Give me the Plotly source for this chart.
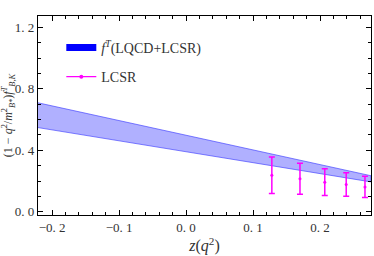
import plotly.graph_objects as go

# Band (LQCD+LCSR) edges
band_z = [-0.221, 0.276]
band_upper = [0.709, 0.235]
band_lower = [0.548, 0.195]

# LCSR points
lcsr_z = [0.128, 0.170, 0.207, 0.239, 0.267]
lcsr_top = [0.357, 0.316, 0.281, 0.255, 0.231]
lcsr_bot = [0.119, 0.115, 0.106, 0.102, 0.093]
lcsr_mid = [(a + b) / 2 for a, b in zip(lcsr_top, lcsr_bot)]

x_ticks = [-0.2, -0.1, 0.0, 0.1, 0.2]
x_ticktext = ["−0. 2", "−0. 1", "0. 0", "0. 1", "0. 2"]
y_ticks = [0.0, 0.4, 0.8, 1.2]
y_ticktext = ["0. 0", "0. 4", "0. 8", "1. 2"]

font = "Liberation Serif"

fig = go.Figure()
fig.add_trace(go.Scatter(
    x=band_z + band_z[::-1], y=band_upper + band_lower[::-1],
    fill="toself", fillcolor="rgba(90,90,255,0.48)",
    line=dict(color="rgba(60,60,255,0.8)", width=0.8),
    mode="lines", showlegend=False, hoverinfo="skip"))
# legend proxy for band
fig.add_trace(go.Scatter(
    x=[None], y=[None], mode="lines", line=dict(color="#0000ff", width=7),
    name="<i>f</i><sup><i>T</i></sup>(LQCD+LCSR)", legendgroup="a"))
fig.add_trace(go.Scatter(
    x=lcsr_z, y=lcsr_mid, mode="markers",
    marker=dict(color="#ff00ff", size=3),
    error_y=dict(type="data", symmetric=False,
                 array=[t - m for t, m in zip(lcsr_top, lcsr_mid)],
                 arrayminus=[m - b for m, b in zip(lcsr_mid, lcsr_bot)],
                 color="#ff00ff", thickness=1.5, width=3),
    showlegend=False, cliponaxis=False))
# legend proxy for LCSR
fig.add_trace(go.Scatter(
    x=[None], y=[None], mode="lines+markers",
    line=dict(color="#ff00ff", width=1.2), marker=dict(color="#ff00ff", size=4),
    name="LCSR", legendgroup="b"))

axis_common = dict(showline=True, linecolor="black", linewidth=1.2, mirror="ticks",
                   ticks="inside", ticklen=5, tickcolor="black", showgrid=False,
                   zeroline=False, automargin=False,
                   tickfont=dict(family=font, size=13, color="#333"))
fig.update_xaxes(range=[-0.221, 0.276], tickvals=x_ticks, ticktext=x_ticktext,
                 minor=dict(ticks="inside", ticklen=2.5, dtick=0.02, tick0=0, tickcolor="black"),
                 title=dict(text="<i>z</i>(<i>q</i><sup>2</sup>)", font=dict(family=font, size=16, color="#333"), standoff=2),
                 **axis_common)
fig.update_yaxes(range=[-0.02, 1.273], tickvals=y_ticks, ticktext=y_ticktext,
                 minor=dict(ticks="inside", ticklen=2.5, dtick=0.1, tick0=0, tickcolor="black"),
                 title=dict(text="(1 − <i>q</i><sup>2</sup>/<i>m</i><sup>2</sup><sub><i>B</i>*</sub>)<i>f</i><sup><i>T</i></sup><sub><i>B,K</i></sub>",
                            font=dict(family=font, size=12, color="#333"), standoff=0),
                 **axis_common)
fig.update_layout(
    width=374, height=256, margin=dict(l=38, r=3, t=16, b=41),
    plot_bgcolor="white", paper_bgcolor="white",
    legend=dict(x=0.07, y=0.92, xanchor="left", yanchor="top", bgcolor="rgba(0,0,0,0)",
                font=dict(family=font, size=14, color="#333"), tracegroupgap=8,
                itemwidth=30),
)
fig.write_html("out.html", config={"displayModeBar": False},
               post_script="document.body.style.margin='0';")
